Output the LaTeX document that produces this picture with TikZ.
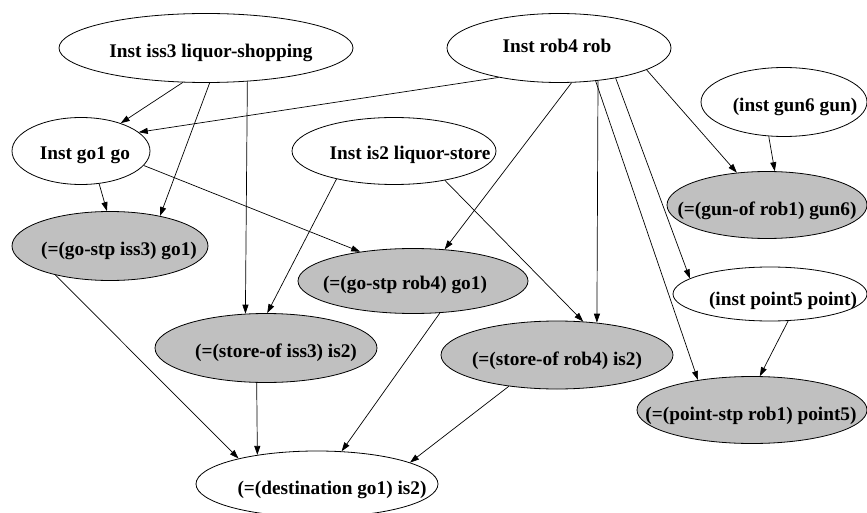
\documentclass[tikz,border=0pt]{standalone}
\usepackage{fontspec}
\setmainfont{Liberation Serif}
\usetikzlibrary{shapes.geometric,arrows.meta}
\definecolor{factgray}{RGB}{192,192,192}
\begin{document}
\begin{tikzpicture}[x=1pt,y=-1pt,
  oval/.style={ellipse,draw=black,line width=0.8pt,inner sep=0pt},
  inst/.style={oval,fill=white},
  fact/.style={oval,fill=factgray},
  lbl/.style={anchor=base,inner sep=0pt,font=\fontsize{19.3}{22}\selectfont\bfseries},
  link/.style={line width=0.7pt,-{Triangle[length=9pt,width=6pt]}}]
\useasboundingbox (0,0) rectangle (867,513);

% instance nodes (white)
\node[inst,minimum width=294pt,minimum height=69pt] (iss3) at (206,48) {};
\node[inst,minimum width=224pt,minimum height=69pt] (rob4) at (559,48) {};
\node[inst,minimum width=166pt,minimum height=69pt] (gun6) at (784,102) {};
\node[inst,minimum width=138pt,minimum height=67pt] (go1) at (81,151) {};
\node[inst,minimum width=204pt,minimum height=67pt] (is2) at (394,151) {};
\node[inst,minimum width=194pt,minimum height=54pt] (pt5) at (770,294) {};
\node[inst,minimum width=242pt,minimum height=66pt] (dest) at (317,484) {};

% equality facts (grey)
\node[fact,minimum width=196pt,minimum height=69pt] (gsi) at (110,246) {};
\node[fact,minimum width=230pt,minimum height=65pt] (gsr) at (413,281) {};
\node[fact,minimum width=222pt,minimum height=69pt] (soi) at (266,348) {};
\node[fact,minimum width=232pt,minimum height=68pt] (sor) at (557,355) {};
\node[fact,minimum width=200pt,minimum height=67pt] (gof) at (767,205) {};
\node[fact,minimum width=230pt,minimum height=67pt] (pst) at (752,410) {};

% labels
\node[lbl] (iss3t) at (211,58) {Inst iss3 liquor-shopping};
\node[lbl] (rob4t) at (557,53) {Inst rob4 rob};
\node[lbl] (gun6t) at (795,112) {(inst gun6 gun)};
\node[lbl] (go1t) at (85,160) {Inst go1 go};
\node[lbl] (is2t) at (410,160) {Inst is2 liquor-store};
\node[lbl] (pt5t) at (783,305) {(inst point5 point)};
\node[lbl] (destt) at (332,494) {(=(destination go1) is2)};
\node[lbl] (gsit) at (119,255) {(=(go-stp iss3) go1)};
\node[lbl] (gsrt) at (405,289) {(=(go-stp rob4) go1)};
\node[lbl] (soit) at (276,357) {(=(store-of iss3) is2)};
\node[lbl] (sort) at (557,365) {(=(store-of rob4) is2)};
\node[lbl] (goft) at (767,215) {(=(gun-of rob1) gun6)};
\node[lbl] (pstt) at (751,420) {(=(point-stp rob1) point5)};

% connectors
\draw[link] (iss3.236.7) -- (go1.35.9);
\draw[link] (iss3.276.5) -- (gsi.31.7);
\draw[link] (iss3.321.5) -- (soi.121);
\draw[link] (rob4.206.6) -- (go1.18);
\draw[link] (go1.299.2) -- (gsi.95);
\draw[link] (go1.347.3) -- (gsr.151.8);
\draw[link] (is2.206.6) -- (soi.88);
\draw[link] (is2.330.6) -- (sor.52.4);
\draw[link] (rob4.290.4) -- (gsr.45);
\draw[link] (rob4.320.4) -- (sor.39.8);
\draw[link] (rob4.318.8) -- (pst.151.7);
\draw[link] (rob4.332.6) -- (pt5.169.9);
\draw[link] (rob4.346.6) -- (gof.133.3);
\draw[link] (gun6.246.8) -- (gof.77);
\draw[link] (pt5.304.2) -- (pst.77.5);
\draw[link] (gsi.208.4) -- (dest.162.2);
\draw[link] (soi.255.3) -- (dest.154.4);
\draw[link] (gsr.310.5) -- (dest.53.4);
\draw[link] (sor.213.5) -- (dest.13.5);
\end{tikzpicture}
\end{document}
